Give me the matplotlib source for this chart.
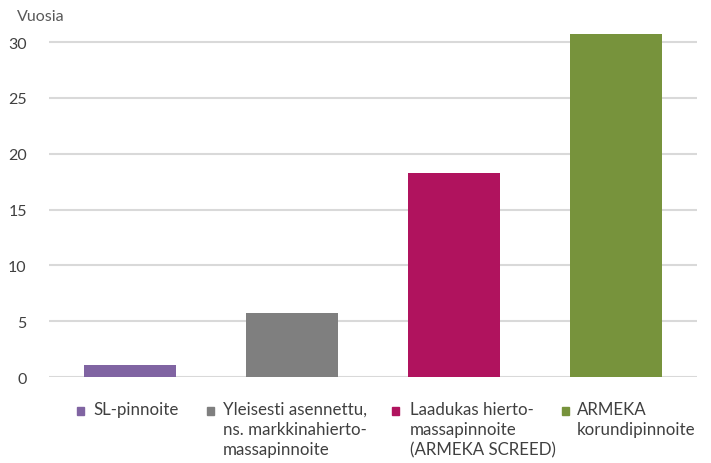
import matplotlib
matplotlib.use("Agg")
import matplotlib.pyplot as plt
from matplotlib.patches import Rectangle

categories = ["SL-pinnoite",
              "Yleisesti asennettu,\nns. markkinahierto-\nmassapinnoite",
              "Laadukas hierto-\nmassapinnoite\n(ARMEKA SCREED)",
              "ARMEKA\nkorundipinnoite"]
values = [1.05, 5.75, 18.25, 30.7]
colors = ["#8064A2", "#7F7F7F", "#B0135E", "#77933C"]
yticks = [0, 5, 10, 15, 20, 25, 30]
ylabel = "Vuosia"

plt.rcParams['font.family'] = ['Lato', 'DejaVu Sans']

W, H = 711, 464
fig = plt.figure(figsize=(W/100, H/100), dpi=100)
ax_left, ax_right = 49, 697
ax_bottom, ax_top = 378, 32
ax = fig.add_axes([ax_left/W, 1 - ax_bottom/H, (ax_right-ax_left)/W, (ax_bottom-ax_top)/H])

x = range(len(values))
ax.bar(x, values, width=0.574, color=colors, zorder=3)
ax.set_xlim(-0.5, len(values) - 0.5)
ax.set_ylim(0, 31)
ax.set_yticks(yticks)
ax.set_yticklabels([str(t) for t in yticks], fontsize=11.5, color="#404040")
ax.set_xticks([])
ax.tick_params(axis='y', length=0, pad=16)
for s in ax.spines.values():
    s.set_visible(False)
ax.grid(axis='y', color="#D9D9D9", linewidth=1.5, zorder=0)

fig.text(17/W, 1 - 17/H, ylabel, fontsize=11.5, color="#595959", va='center', ha='left')

# legend
marker_x = [77, 207, 392, 562]
text_x = [93, 223, 410, 577]
ly = 412
for mx, tx, lab, c in zip(marker_x, text_x, categories, colors):
    fig.add_artist(Rectangle((mx/W, 1 - (ly + 4)/H), 7/W, 8/H, color=c,
                             transform=fig.transFigure))
    fig.text(tx/W, 1 - (ly - 10)/H, lab, fontsize=12.2, color="#404040",
             va='top', ha='left', linespacing=1.3)

fig.savefig("out.png", dpi=100)
